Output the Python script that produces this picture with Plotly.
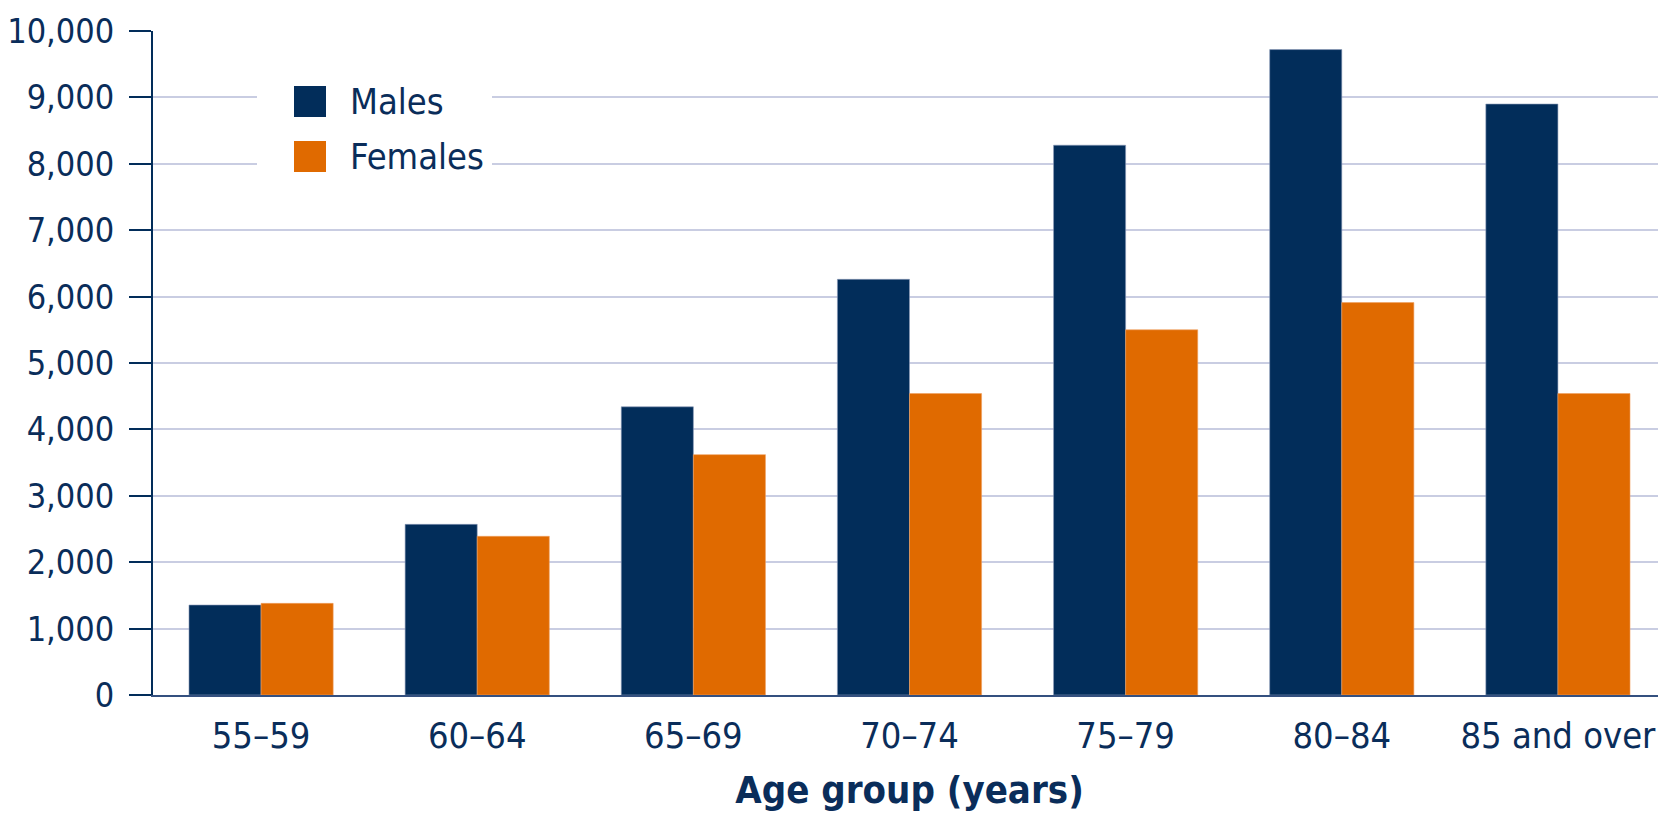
import plotly.graph_objects as go

categories = ["55–59", "60–64", "65–69", "70–74", "75–79", "80–84", "85 and over"]
males = [1355, 2570, 4340, 6260, 8280, 9720, 8900]
females = [1380, 2390, 3620, 4540, 5500, 5910, 4540]
y_ticks = [0, 1000, 2000, 3000, 4000, 5000, 6000, 7000, 8000, 9000, 10000]
y_tick_labels = ["0", "1,000", "2,000", "3,000", "4,000", "5,000", "6,000", "7,000", "8,000", "9,000", "10,000"]
series_names = ["Males", "Females"]

NAVY = "#022D5A"
ORANGE = "#E06A00"
TEXT = "#0A2D5A"
GRID = "#C9CDE2"
FONT = "DejaVu Sans Condensed, Liberation Sans Narrow, sans-serif"
FS = 36

fig = go.Figure()
fig.add_trace(go.Bar(x=categories, y=males, name=series_names[0], marker=dict(color=NAVY, line=dict(color="#8C9BB8", width=0.6)), showlegend=False))
fig.add_trace(go.Bar(x=categories, y=females, name=series_names[1], marker=dict(color=ORANGE, line=dict(color="#F0A060", width=0.6)), showlegend=False))

# page body has an 8px default margin, so the figure is offset by 8px
OFF = 8
W, H = 1666 - OFF, 824 - OFF
ml, mr, mt, mb = 153 - OFF, 0, 31 - OFF, 129
pw, ph = W - ml - mr, H - mt - mb

def px(x):
    return (x - OFF - ml) / pw

def py(y):
    return (H - mb - (y - OFF)) / ph

# custom legend (large keys) drawn in paper space
shapes = [
    dict(type="rect", xref="paper", yref="paper", x0=px(257), x1=px(492), y0=py(195), y1=py(55),
         fillcolor="white", line=dict(width=0), layer="above"),
    dict(type="rect", xref="paper", yref="paper", x0=px(294), x1=px(326), y0=py(117), y1=py(86),
         fillcolor=NAVY, line=dict(width=0), layer="above"),
    dict(type="rect", xref="paper", yref="paper", x0=px(294), x1=px(326), y0=py(172), y1=py(141),
         fillcolor=ORANGE, line=dict(width=0), layer="above"),
]
annotations = [
    dict(xref="paper", yref="paper", x=px(348), y=py(101.5), text=series_names[0], showarrow=False,
         xanchor="left", yanchor="middle", font=dict(family=FONT, size=FS, color=TEXT)),
    dict(xref="paper", yref="paper", x=px(348), y=py(156.5), text=series_names[1], showarrow=False,
         xanchor="left", yanchor="middle", font=dict(family=FONT, size=FS, color=TEXT)),
]

fig.update_layout(
    width=W, height=H,
    margin=dict(l=ml, r=mr, t=mt, b=mb, pad=0),
    plot_bgcolor="white", paper_bgcolor="white",
    barmode="group", bargap=0.333, bargroupgap=0,
    font=dict(family=FONT, size=FS, color=TEXT),
    shapes=shapes, annotations=annotations,
    showlegend=False,
)
fig.update_xaxes(
    type="category", range=[-0.5, 6.5], automargin=False,
    showline=True, linecolor="#34507F", linewidth=2,
    ticks="", ticklabelstandoff=8,
    tickfont=dict(family=FONT, size=FS, color=TEXT),
    title=dict(text="<b>Age group (years)</b>", standoff=21,
               font=dict(family=FONT, size=38, color=TEXT)),
    showgrid=False,
)
fig.update_yaxes(
    range=[0, 10000], tickvals=y_ticks, ticktext=y_tick_labels, automargin=False,
    showline=True, linecolor=NAVY, linewidth=2,
    ticks="outside", ticklen=22, tickwidth=2, tickcolor=NAVY,
    ticklabelstandoff=8,
    tickfont=dict(family=FONT, size=34, color=TEXT),
    showgrid=True, gridcolor=GRID, gridwidth=1.5,
    zeroline=False,
)

fig.write_html("out.html")
